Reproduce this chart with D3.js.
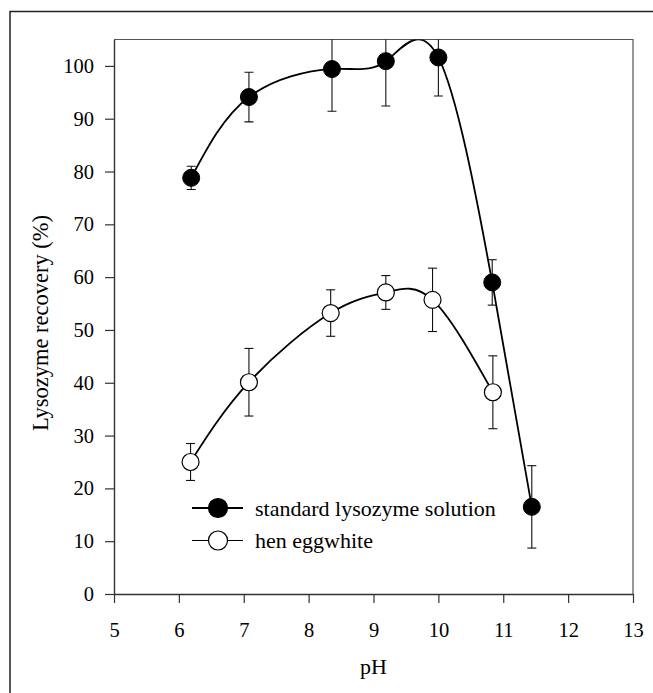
<!DOCTYPE html>
<html>
<head>
<meta charset="utf-8">
<script src="https://cdn.jsdelivr.net/npm/d3@7"></script>
<style>
  body { margin: 0; background: #fff; }
</style>
</head>
<body>
<script>
// standard lysozyme solution
const phStd = [6.19, 7.08, 8.36, 9.19, 10.0, 10.83, 11.44];
const recStd = [78.8, 94.1, 99.4, 100.9, 101.6, 59.0, 16.5];
const errStd = [2.2, 4.7, 8.0, 8.5, 7.3, 4.3, 7.8];
// hen eggwhite
const phEgg = [6.18, 7.08, 8.34, 9.19, 9.91, 10.84];
const recEgg = [25.0, 40.1, 53.2, 57.1, 55.7, 38.2];
const errEgg = [3.5, 6.4, 4.4, 3.2, 6.0, 6.9];

const xTicks = [5, 6, 7, 8, 9, 10, 11, 12, 13];
const yTicks = [0, 10, 20, 30, 40, 50, 60, 70, 80, 90, 100];
const seriesNames = ['standard lysozyme solution', 'hen eggwhite'];

const FONT = "'Liberation Serif', 'Times New Roman', serif";
const svgWidth = 653, svgHeight = 693;
const margin = {left: 114, top: 39.5, right: 20, bottom: 99.5};
const width = 633 - margin.left;
const height = 594 - margin.top;

const root = d3.select('body').append('svg')
    .attr('width', svgWidth)
    .attr('height', svgHeight);

// outer frame (runs off the page right and bottom)
root.append('path')
    .attr('d', `M10,${svgHeight + 5} V11.5 H${svgWidth + 5}`)
    .attr('fill', 'none')
    .attr('stroke', '#222')
    .attr('stroke-width', 1.5);

const svg = root.append('g')
    .attr('transform', `translate(${margin.left}, ${margin.top})`);

const xScale = d3.scaleLinear().domain([5, 13]).range([0, width]);
const yScale = d3.scaleLinear().domain([0, 105]).range([height, 0]);

svg.append('clipPath').attr('id', 'plotclip')
    .append('rect')
    .attr('x', 0).attr('y', 0)
    .attr('width', width).attr('height', height);

// plot frame top/right
svg.append('path')
    .attr('d', `M0,0 H${width} V${height}`)
    .attr('fill', 'none')
    .attr('stroke', '#555')
    .attr('stroke-width', 1.2);

const xAxis = d3.axisBottom(xScale).tickValues(xTicks).tickSize(9).tickPadding(19).tickSizeOuter(0);
const yAxis = d3.axisLeft(yScale).tickValues(yTicks).tickSize(9).tickPadding(11).tickSizeOuter(0);

const gx = svg.append('g')
    .attr('transform', `translate(0, ${height})`)
    .call(xAxis);
const gy = svg.append('g').call(yAxis);

[gx, gy].forEach(g => {
    g.attr('font-family', FONT).attr('font-size', 20.5);
    g.select('.domain').attr('stroke', '#333').attr('stroke-width', 1.4);
    g.selectAll('.tick line').attr('stroke', '#333').attr('stroke-width', 1.2);
    g.selectAll('.tick text').attr('fill', '#000');
});

// axis titles
root.append('text')
    .text('pH')
    .attr('x', margin.left + width / 2)
    .attr('y', 674)
    .attr('text-anchor', 'middle')
    .attr('font-family', FONT)
    .attr('font-size', 22);

root.append('text')
    .text('Lysozyme recovery (%)')
    .attr('transform', 'translate(48, 323) rotate(-90)')
    .attr('text-anchor', 'middle')
    .attr('font-family', FONT)
    .attr('font-size', 22.5);

const stdData = phStd.map((p, i) => ({x: p, y: recStd[i], e: errStd[i]}));
const eggData = phEgg.map((p, i) => ({x: p, y: recEgg[i], e: errEgg[i]}));

const line = d3.line()
    .x(d => xScale(d.x))
    .y(d => yScale(d.y))
    .curve(d3.curveNatural);

const plot = svg.append('g').attr('clip-path', 'url(#plotclip)');

[eggData, stdData].forEach(data => {
    plot.append('path')
        .datum(data)
        .attr('d', line)
        .attr('fill', 'none')
        .attr('stroke', '#000')
        .attr('stroke-width', 1.8);
});

function errorBars(data) {
    const g = plot.append('g')
        .attr('stroke', '#111')
        .attr('stroke-width', 1.1);
    g.selectAll('line.v')
        .data(data)
        .enter()
        .append('line')
        .attr('class', 'v')
        .attr('x1', d => xScale(d.x)).attr('x2', d => xScale(d.x))
        .attr('y1', d => yScale(d.y + d.e)).attr('y2', d => yScale(d.y - d.e));
    ['top', 'bot'].forEach(k => {
        g.selectAll('line.' + k)
            .data(data)
            .enter()
            .append('line')
            .attr('class', k)
            .attr('x1', d => xScale(d.x) - 4.5).attr('x2', d => xScale(d.x) + 4.5)
            .attr('y1', d => yScale(k == 'top' ? d.y + d.e : d.y - d.e))
            .attr('y2', d => yScale(k == 'top' ? d.y + d.e : d.y - d.e));
    });
}
errorBars(eggData);
errorBars(stdData);

svg.selectAll('circle.egg')
    .data(eggData)
    .enter()
    .append('circle')
    .attr('class', 'egg')
    .attr('cx', d => xScale(d.x))
    .attr('cy', d => yScale(d.y))
    .attr('r', 8.5)
    .attr('fill', '#fff')
    .attr('stroke', '#000')
    .attr('stroke-width', 1.2);

svg.selectAll('circle.std')
    .data(stdData)
    .enter()
    .append('circle')
    .attr('class', 'std')
    .attr('cx', d => xScale(d.x))
    .attr('cy', d => yScale(d.y))
    .attr('r', 8.5)
    .attr('fill', '#000')
    .attr('stroke', '#000')
    .attr('stroke-width', 1);

// legend
const legend = root.append('g');
seriesNames.forEach((name, i) => {
    const cy = 508 + i * 32.5;
    legend.append('line')
        .attr('x1', 192).attr('x2', 243)
        .attr('y1', cy).attr('y2', cy)
        .attr('stroke', '#000')
        .attr('stroke-width', i == 0 ? 2 : 1.2);
    legend.append('circle')
        .attr('cx', 218).attr('cy', cy)
        .attr('r', 9.5)
        .attr('fill', i == 0 ? '#000' : '#fff')
        .attr('stroke', '#000')
        .attr('stroke-width', 1.2);
    legend.append('text')
        .text(name)
        .attr('x', 255)
        .attr('y', cy + 7.5)
        .attr('font-family', FONT)
        .attr('font-size', 22);
});
</script>
</body>
</html>
